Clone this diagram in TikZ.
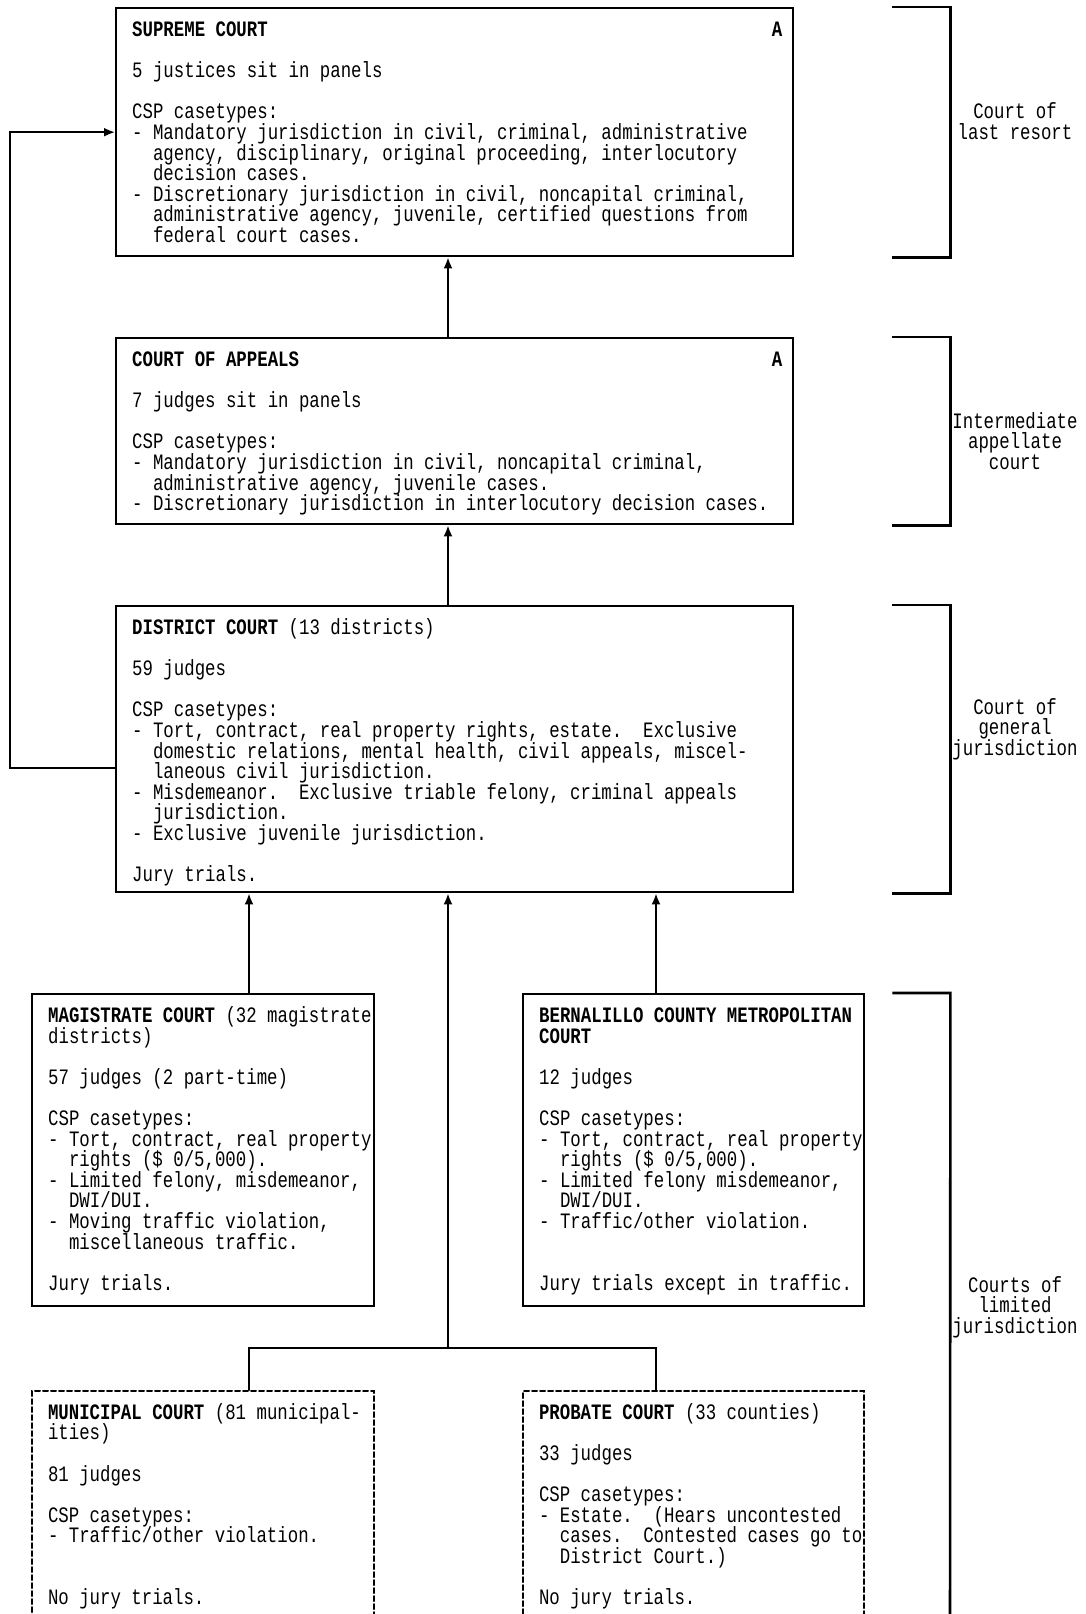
\documentclass[tikz,border=0pt]{standalone}
\usepackage{fontspec}
\newfontfamily\dotfont{Liberation Mono}[FakeStretch=0.79]
\usepackage{tikz}
\usetikzlibrary{arrows.meta}
\newcommand\dotsize{\fontsize{22pt}{20.6pt}\selectfont\lineskiplimit=-50pt\relax\frenchspacing}
\newcommand\gap{\\[20.6pt]}
\newcommand\ind{\hspace*{\dimexpr 2\fontcharwd\font`\a\relax}}
\newcommand\level{\hfill\textbf{A}\hspace*{11pt}\mbox{}}
\newcommand\courtbox[3]{\parbox[c][#2][t]{#1}{\dotfont\dotsize\raggedright
  \leftskip=16pt\relax\rule{0pt}{28.3pt}#3}}

\begin{document}
\begin{tikzpicture}[x=1pt, y=-1pt, line cap=round, >={Latex[length=11pt,width=9pt]},
  court/.style={draw, line width=2.4pt, anchor=north west, inner sep=0pt},
  lower/.style={court, line width=2pt, dash pattern=on 5pt off 3pt},
  link/.style={line width=2pt},
  tier/.style={line width=2.6pt, line cap=butt},
  tiername/.style={align=center, inner sep=0pt, font=\dotfont\dotsize}]

\useasboundingbox (0,0) rectangle (1086,1614);

%% Appellate courts.

\node[court] (supreme) at (115,7) {\courtbox{677pt}{248pt}{%
\textbf{SUPREME COURT}\level\gap
5 justices sit in panels\gap
CSP casetypes:\\
- Mandatory jurisdiction in civil, criminal, administrative\\
\ind agency, disciplinary, original proceeding, interlocutory\\
\ind decision cases.\\
- Discretionary jurisdiction in civil, noncapital criminal,\\
\ind administrative agency, juvenile, certified questions from\\
\ind federal court cases.}};

\node[court] (appeals) at (115,337) {\courtbox{677pt}{186pt}{%
\textbf{COURT OF APPEALS}\level\gap
7 judges sit in panels\gap
CSP casetypes:\\
- Mandatory jurisdiction in civil, noncapital criminal,\\
\ind administrative agency, juvenile cases.\\
- Discretionary jurisdiction in interlocutory decision cases.}};

%% General jurisdiction.

\node[court] (district) at (115,605) {\courtbox{677pt}{286pt}{%
\textbf{DISTRICT COURT} (13 districts)\gap
59 judges\gap
CSP casetypes:\\
- Tort, contract, real property rights, estate.\ \ Exclusive\\
\ind domestic relations, mental health, civil appeals, miscel-\\
\ind laneous civil jurisdiction.\\
- Misdemeanor.\ \ Exclusive triable felony, criminal appeals\\
\ind jurisdiction.\\
- Exclusive juvenile jurisdiction.\gap
Jury trials.}};

%% Limited jurisdiction.

\node[court] (magistrate) at (31,993) {\courtbox{342pt}{312pt}{%
\textbf{MAGISTRATE COURT} (32 magistrate\\
districts)\gap
57 judges (2 part-time)\gap
CSP casetypes:\\
- Tort, contract, real property\\
\ind rights (\$ 0/5,000).\\
- Limited felony, misdemeanor,\\
\ind DWI/DUI.\\
- Moving traffic violation,\\
\ind miscellaneous traffic.\gap
Jury trials.}};

\node[court] (bernalillo) at (522,993) {\courtbox{341pt}{312pt}{%
\textbf{BERNALILLO COUNTY METROPOLITAN}\\
\textbf{COURT}\gap
12 judges\gap
CSP casetypes:\\
- Tort, contract, real property\\
\ind rights (\$ 0/5,000).\\
- Limited felony misdemeanor,\\
\ind DWI/DUI.\\
- Traffic/other violation.\\[41.2pt]
Jury trials except in traffic.}};

\node[lower] (municipal) at (31,1390) {\courtbox{342pt}{260pt}{%
\textbf{MUNICIPAL COURT} (81 municipal-\\
ities)\gap
81 judges\gap
CSP casetypes:\\
- Traffic/other violation.\\[41.2pt]
No jury trials.}};

\node[lower] (probate) at (522,1390) {\courtbox{341pt}{260pt}{%
\textbf{PROBATE COURT} (33 counties)\gap
33 judges\gap
CSP casetypes:\\
- Estate.\ \ (Hears uncontested\\
\ind cases.\ \ Contested cases go to\\
\ind District Court.)\gap
No jury trials.}};

%% Appeal routes.

\coordinate (magx) at (249,0);
\coordinate (bernx) at (656,0);
\coordinate (fork) at (448,1348);
\coordinate (back) at (10,0);

\draw[link,->] (appeals.north -| fork) -- (supreme.south -| fork);
\draw[link,->] (district.north -| fork) -- (appeals.south -| fork);
\draw[link,->] ([yshift=-19pt]district.west) -| (supreme.west -| back) -- (supreme.west);
\draw[link,->] (magistrate.north -| magx) -- (district.south -| magx);
\draw[link,->] (bernalillo.north -| bernx) -- (district.south -| bernx);
\draw[link,->] (fork) -- (district.south -| fork);
\draw[link] (municipal.north -| magx) |- (fork) -| (probate.north -| bernx);

%% Court levels.

\draw[tier] ([xshift=98pt]supreme.north east) -- ++(58,0) |- ([xshift=98pt]supreme.south east);
\draw[tier] ([xshift=98pt]appeals.north east) -- ++(58,0) |- ([xshift=98pt]appeals.south east);
\draw[tier] ([xshift=98pt]district.north east) -- ++(58,0) |- ([xshift=98pt]district.south east);
\draw[tier] ([xshift=27pt]bernalillo.north east) -- ++(58,0) -- ([xshift=85pt]probate.south east);

\node[tiername] (lastresort) at (1015,121) {Court of\\last resort};
\node[tiername] (intermediate) at (1015,441) {Intermediate\\appellate\\court};
\node[tiername] (general) at (1015,729) {Court of\\general\\jurisdiction};
\node[tiername] (limited) at (1015,1307) {Courts of\\limited\\jurisdiction};

\end{tikzpicture}
\end{document}
